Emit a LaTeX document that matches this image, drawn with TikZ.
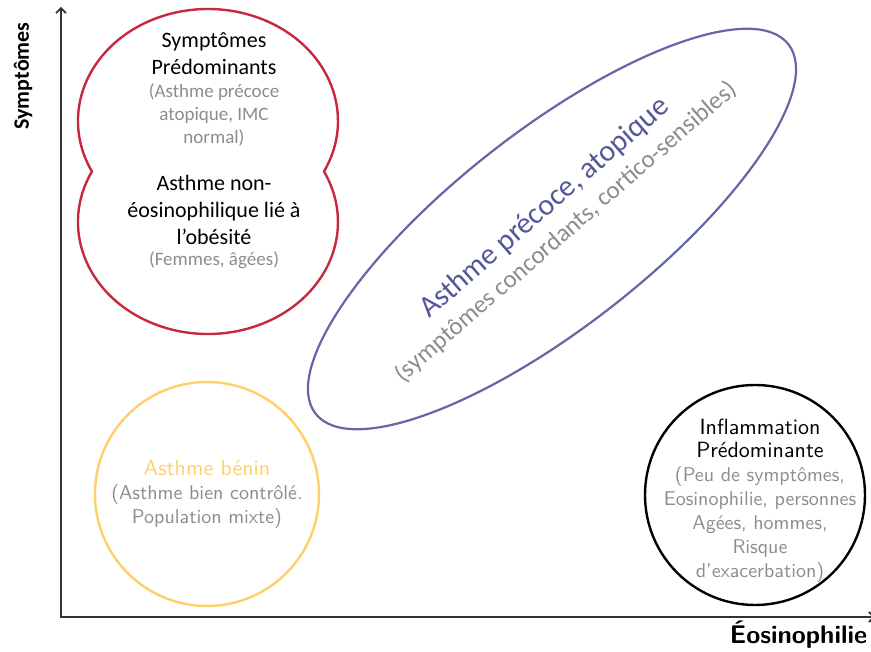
\documentclass[tikz,border=0pt]{standalone}
\usepackage{fontspec}
\newfontfamily\calfont{Carlito}
\newfontfamily\lmten{lmsans10-regular.otf}[BoldFont=lmsans10-bold.otf]
\usetikzlibrary{arrows.meta}
\definecolor{redc}{HTML}{C8283F}
\definecolor{purplec}{HTML}{6467A6}
\definecolor{purpletext}{HTML}{55579A}
\definecolor{yellowc}{HTML}{FFD06A}
\definecolor{grayt}{HTML}{8C8C8C}
\definecolor{axisc}{HTML}{333333}
\tikzset{
  axisline/.style={draw=axisc, line width=2.2pt, -{Straight Barb[length=5pt,width=10pt,line width=1.6pt]}},
  blobline/.style={draw=redc, line width=2.4pt},
  ovalline/.style={draw=purplec, line width=2.2pt},
  ringline/.style={line width=2.4pt, circle, inner sep=0pt, minimum size=224pt},
  caltxt/.style={align=center, inner sep=0pt, font=\calfont\fontsize{22}{27}\selectfont},
  calgray/.style={align=center, inner sep=0pt, text=grayt, font=\calfont\fontsize{19}{23}\selectfont},
  lmtxt/.style={align=center, inner sep=0pt, font=\lmten\fontsize{22}{23.5}\selectfont},
  lmgray/.style={align=center, inner sep=0pt, text=grayt, font=\lmten\fontsize{20}{24}\selectfont}
}
\begin{document}
\begin{tikzpicture}[x=1pt,y=1pt]
\useasboundingbox (0,0) rectangle (871,-652);
% axes
\coordinate (O) at (61,-617);
\coordinate (ytop) at (61,-7);
\coordinate (xend) at (875,-617);
\draw[axisline] (O) -- (ytop);
\draw[axisline] (60,-617) -- (xend);
\node[inner sep=0pt, rotate=90, font=\calfont\bfseries\fontsize{22}{26}\selectfont] (ylab) at (23,-76) {Symptômes};
\node[inner sep=0pt, font=\lmten\bfseries\fontsize{25.5}{28}\selectfont] (xlab) at (798.5,-635) {Éosinophilie};
% red blob
\draw[blobline] (324,-171.5) arc[start angle=-26.8, end angle=206.8, x radius=130, y radius=112]
  arc[start angle=153.2, end angle=386.8, x radius=130, y radius=112] -- cycle;
\node[caltxt] (sp) at (214,-53.5) {Symptômes\\Prédominants};
\node[calgray] (spg) at (214,-115) {(Asthme précoce\\atopique, IMC\\normal)};
\node[caltxt] (ob) at (214,-210) {Asthme non-\\éosinophilique lié à\\l’obésité};
\node[calgray] (obg) at (214,-260) {(Femmes, âgées)};
% purple ellipse
\draw[ovalline, rotate around={38:(552,-229)}] (552,-229) ellipse[x radius=300, y radius=98];
\node[inner sep=0pt, rotate=41, text=purpletext, font=\calfont\fontsize{30}{34}\selectfont] (at1) at (545,-208) {Asthme précoce, atopique};
\node[inner sep=0pt, rotate=41, text=grayt, font=\calfont\fontsize{25}{30}\selectfont] (at2) at (566,-232) {(symptômes concordants, cortico-sensibles)};
% yellow circle
\node[ringline, draw=yellowc] (yc) at (207,-494) {};
\node[lmtxt, text=yellowc] (ben) at (207,-468) {Asthme bénin};
\node[lmgray] (beng) at (207,-506) {(Asthme bien contrôlé.\\Population mixte)};
% black circle
\node[ringline, draw=black, minimum size=220pt] (bc) at (755,-495) {};
\node[lmtxt] (inf) at (760,-438.5) {Inflammation\\Prédominante};
\node[lmgray] (infg) at (760,-524) {(Peu de symptômes,\\Eosinophilie, personnes\\Agées, hommes,\\Risque\\d’exacerbation)};
\end{tikzpicture}
\end{document}
